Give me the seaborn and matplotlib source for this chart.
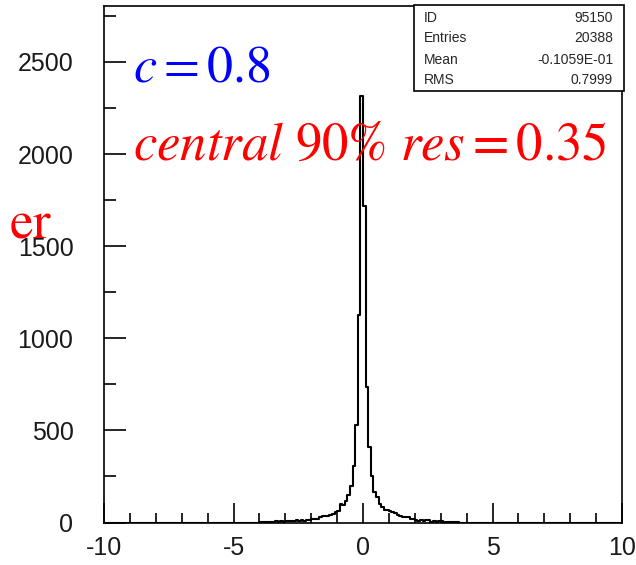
import numpy as np
import matplotlib
matplotlib.use("Agg")
import matplotlib.pyplot as plt
import seaborn as sns
from matplotlib.patches import Rectangle
from matplotlib.ticker import MultipleLocator

# ---- data (bin width 0.1, bins covering -4.0 .. 4.0; all other bins are empty) ----
bin_width = 0.1
tail_start = -4.0
counts = [
    # -4.0 .. -3.1
    1, 2, 4, 2, 3, 5, 8, 3, 6, 4,
    # -3.0 .. -2.1
    9, 7, 10, 8, 12, 9, 11, 10, 15, 16,
    # -2.0 .. -1.1
    18, 19, 20, 30, 33, 34, 36, 42, 44, 55,
    # -1.0 .. -0.1
    63, 100, 96, 115, 150, 198, 305, 530, 1128, 2315,
    # 0.0 .. 0.9
    1720, 735, 410, 250, 168, 140, 100, 86, 70, 66,
    # 1.0 .. 1.9
    64, 56, 50, 40, 36, 28, 30, 32, 20, 18,
    # 2.0 .. 2.9
    12, 10, 11, 9, 14, 12, 5, 6, 4, 10,
    # 3.0 .. 3.9
    9, 3, 2, 3, 2, 1, 2, 0, 0, 0,
]
x_range = (-10, 10)
n_bins = 200
y_top = 2804
xticks = [-10, -5, 0, 5, 10]
yticks = [0, 500, 1000, 1500, 2000, 2500]
stats_labels = ["ID", "Entries", "Mean", "RMS"]
stats_values = ["95150", "20388", "-0.1059E-01", "0.7999"]

centers = tail_start + bin_width * (np.arange(len(counts)) + 0.5)

sns.set_style("ticks")
plt.rcParams["font.family"] = ["Liberation Sans", "DejaVu Sans"]
plt.rcParams["mathtext.fontset"] = "stix"

W, H = 636, 565
fig = plt.figure(figsize=(W / 100, H / 100), dpi=100)
ax = fig.add_axes([104 / W, 1 - 522.5 / H, (622 - 104) / W, (522.5 - 6) / H])

sns.histplot(x=centers, weights=counts, bins=n_bins, binrange=x_range,
             element="step", fill=False, color="black", linewidth=1.5, ax=ax)

ax.set_xlim(*x_range)
ax.set_ylim(0, y_top)
ax.set_xticks(xticks)
ax.set_xticklabels([str(t) for t in xticks])
ax.set_yticks(yticks)
ax.set_yticklabels([str(t) for t in yticks])
ax.xaxis.set_minor_locator(MultipleLocator(1))
ax.yaxis.set_minor_locator(MultipleLocator(250))
ax.set_xlabel("")
ax.set_ylabel("")
for s in ax.spines.values():
    s.set_visible(True)
    s.set_linewidth(1.2)
    s.set_color("black")
ax.tick_params(axis="both", which="both", direction="in", color="black", width=1.2,
               top=False, right=False)
ax.tick_params(axis="y", which="major", length=16, pad=22, labelsize=18, labelcolor="#1a1a1a")
ax.tick_params(axis="y", which="minor", length=8.5)
ax.tick_params(axis="x", which="major", length=14.5, pad=10, labelsize=18, labelcolor="#1a1a1a")
ax.tick_params(axis="x", which="minor", length=7.5)

# stats box
bx0, by0, bx1, by1 = 414, 5, 624, 91
fig.add_artist(Rectangle((bx0 / W, 1 - by1 / H), (bx1 - bx0) / W, (by1 - by0) / H,
                         transform=fig.transFigure, facecolor="white",
                         edgecolor="black", linewidth=1.2, zorder=10))
rows_y = [17.5, 38, 60, 80]
for lab, val, yy in zip(stats_labels, stats_values, rows_y):
    fig.text(424 / W, 1 - yy / H, lab, fontsize=10, ha="left", va="center", zorder=11)
    fig.text(613 / W, 1 - yy / H, val, fontsize=10, ha="right", va="center", zorder=11)

# annotations
fig.text(133 / W, 1 - 82 / H, r"$c = 0.8$", color="blue", fontsize=37.5, ha="left", va="baseline")
fig.text(133 / W, 1 - 160 / H, r"$central\ 90\%\ res = 0.35$", color="red", fontsize=38,
         ha="left", va="baseline")
fig.text(52 / W, 1 - 237 / H, r"$\mathrm{er}$", color="red", fontsize=38, ha="right", va="baseline")

fig.savefig("out.png", dpi=100)
